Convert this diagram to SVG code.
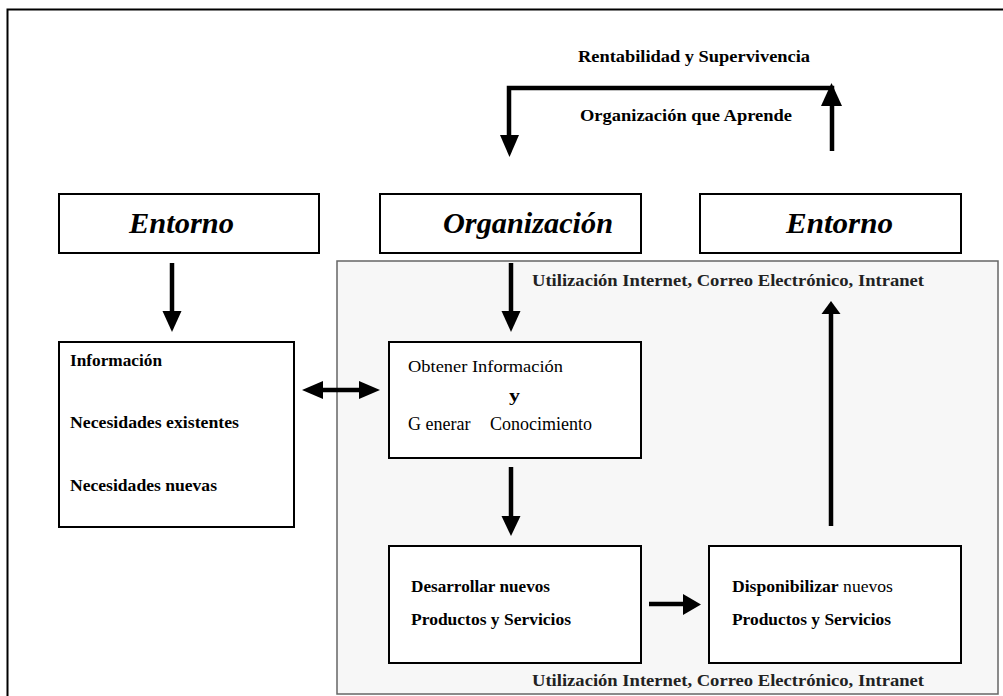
<svg xmlns="http://www.w3.org/2000/svg" width="1003" height="696" viewBox="0 0 1003 696">
<style>
.box{fill:#fff;stroke:#000;stroke-width:2}
.panel{fill:#f7f7f7;stroke:#666;stroke-width:1.5}
.conn{stroke:#000;stroke-width:4.5;fill:none}
.head{fill:#000}
.t{font-family:"Liberation Serif","Times New Roman",serif;font-size:17px;fill:#000}
.b{font-weight:bold}
.big{font-family:"Liberation Serif","Times New Roman",serif;font-size:30px;font-weight:bold;font-style:italic;fill:#000}
.util{font-family:"Liberation Serif","Times New Roman",serif;font-size:16px;font-weight:bold;fill:#222}
</style>
<rect width="1003" height="696" fill="#fff"/>
<path d="M7.5,696 V9.5 H1003" fill="none" stroke="#000" stroke-width="2"/>

<g id="panel">
<rect class="panel" x="337" y="261" width="661" height="433"/>
<text class="util" x="532" y="286" textLength="392" lengthAdjust="spacingAndGlyphs">Utilización  Internet, Correo Electrónico, Intranet</text>
<text class="util" x="532" y="686" textLength="392" lengthAdjust="spacingAndGlyphs">Utilización  Internet, Correo Electrónico, Intranet</text>
</g>

<g id="top-labels">
<text class="t b" x="578" y="62" textLength="232" lengthAdjust="spacingAndGlyphs">Rentabilidad y Supervivencia</text>
<text class="t b" x="580" y="121" textLength="212" lengthAdjust="spacingAndGlyphs">Organización que Aprende</text>
</g>

<g id="entorno1">
<rect class="box" x="59" y="194" width="260" height="59"/>
<text class="big" x="129" y="233" textLength="105" lengthAdjust="spacingAndGlyphs">Entorno</text>
</g>
<g id="organizacion">
<rect class="box" x="380" y="194" width="261" height="59"/>
<text class="big" x="443" y="233" textLength="170" lengthAdjust="spacingAndGlyphs">Organización</text>
</g>
<g id="entorno2">
<rect class="box" x="700" y="194" width="261" height="59"/>
<text class="big" x="786" y="233" textLength="107" lengthAdjust="spacingAndGlyphs">Entorno</text>
</g>

<g id="informacion">
<rect class="box" x="59" y="342" width="235" height="185"/>
<text class="t b" x="70" y="366" textLength="92" lengthAdjust="spacingAndGlyphs">Información</text>
<text class="t b" x="70" y="428" textLength="169" lengthAdjust="spacingAndGlyphs">Necesidades existentes</text>
<text class="t b" x="70" y="491" textLength="147" lengthAdjust="spacingAndGlyphs">Necesidades nuevas</text>
</g>

<g id="obtener">
<rect class="box" x="389" y="342" width="252" height="116"/>
<text class="t" x="408" y="372" textLength="155" lengthAdjust="spacingAndGlyphs">Obtener Información</text>
<text class="t b" x="509" y="401" textLength="11" lengthAdjust="spacingAndGlyphs">y</text>
<text class="t" y="430" style="font-size:18px"><tspan x="408">G enerar</tspan><tspan x="490">Conocimiento</tspan></text>
</g>

<g id="desarrollar">
<rect class="box" x="389" y="546" width="252" height="117"/>
<text class="t b" x="411" y="592" textLength="139" lengthAdjust="spacingAndGlyphs">Desarrollar nuevos</text>
<text class="t b" x="411" y="625" textLength="160" lengthAdjust="spacingAndGlyphs">Productos y Servicios</text>
</g>

<g id="disponibilizar">
<rect class="box" x="709" y="546" width="252" height="117"/>
<text class="t" x="732" y="592" textLength="161" lengthAdjust="spacingAndGlyphs"><tspan class="b">Disponibilizar</tspan> nuevos</text>
<text class="t b" x="732" y="625" textLength="159" lengthAdjust="spacingAndGlyphs">Productos y Servicios</text>
</g>

<g id="connectors">
<path class="conn" d="M832,151 V88 H509 V136"/>
<polygon class="head" points="500,135 519,135 509.5,157"/>
<polygon class="head" points="821,106 842,106 831.5,83"/>
<line class="conn" x1="172" y1="263" x2="172" y2="312"/>
<polygon class="head" points="162.5,311 181.5,311 172,332"/>
<line class="conn" x1="511" y1="263" x2="511" y2="312"/>
<polygon class="head" points="501.5,311 520.5,311 511,332"/>
<line class="conn" x1="320" y1="390" x2="362" y2="390"/>
<polygon class="head" points="302,390 323,381 323,399"/>
<polygon class="head" points="380,390 359,381 359,399"/>
<line class="conn" x1="511" y1="467" x2="511" y2="517"/>
<polygon class="head" points="501.5,516 520.5,516 511,536"/>
<line class="conn" x1="649" y1="604" x2="684" y2="604"/>
<polygon class="head" points="683,594 683,615 701,604.5"/>
<line class="conn" x1="831" y1="526" x2="831" y2="312"/>
<polygon class="head" points="821.5,314 840.5,314 831,301"/>
</g>
</svg>
